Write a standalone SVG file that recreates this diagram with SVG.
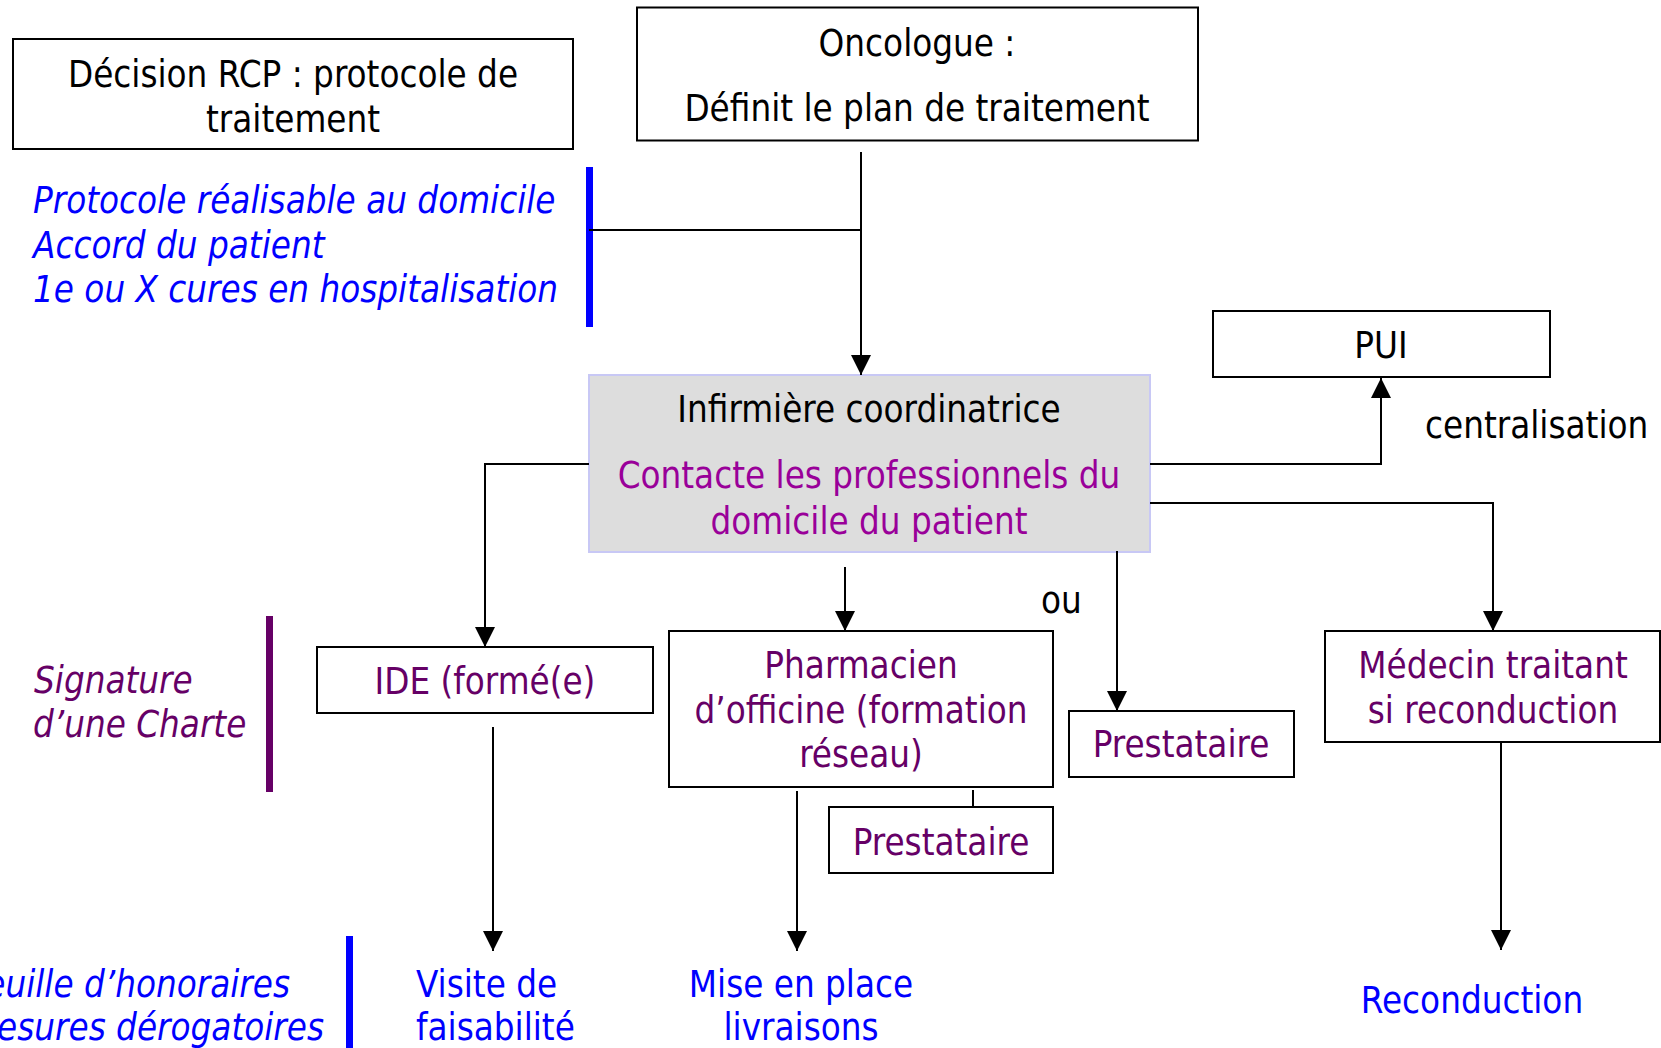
<svg xmlns="http://www.w3.org/2000/svg" width="1661" height="1048" viewBox="0 0 1661 1048">
<defs>
<style>
text{font-family:"DejaVu Sans Condensed","DejaVu Sans","Liberation Sans",sans-serif;font-stretch:condensed;font-size:36.4px}
.c{text-anchor:middle}
.e{text-anchor:end}
.k{fill:#000}
.b{fill:#0000FF}
.p{fill:#660066}
.m{fill:#990099}
.i{font-style:italic}
.box{fill:#fff;stroke:#000;stroke-width:2}
.conn{fill:none;stroke:#000;stroke-width:2}
</style>
<marker id="ah" viewBox="0 0 20 20" refX="20" refY="10" markerWidth="20" markerHeight="20" markerUnits="userSpaceOnUse" orient="auto">
<path d="M0,0 L20,10 L0,20 z" fill="#000"/>
</marker>
</defs>
<rect width="1661" height="1048" fill="#fff"/>

<g id="decision">
<rect class="box" x="13" y="39" width="560" height="110"/>
<text class="c k" x="293" y="87">Décision RCP : protocole de</text>
<text class="c k" x="293" y="131.5">traitement</text>
</g>

<g id="oncologue">
<rect class="box" x="637" y="7.5" width="561" height="133"/>
<text class="c k" x="917" y="55.5">Oncologue :</text>
<text class="c k" x="917" y="121">Définit le plan de traitement</text>
</g>

<g id="conditions">
<rect x="586" y="167" width="7" height="160" fill="#0000FF"/>
<text class="b i" x="33" y="213">Protocole réalisable au domicile</text>
<text class="b i" x="33" y="257.5">Accord du patient</text>
<text class="b i" x="33" y="301.5">1e ou X cures en hospitalisation</text>
</g>

<g id="infirmiere">
<rect x="589" y="375" width="561" height="177" fill="#DDDDDD" stroke="#C8C8F5" stroke-width="2"/>
<text class="c k" x="869" y="422">Infirmière coordinatrice</text>
<text class="c m" x="869" y="488">Contacte les professionnels du</text>
<text class="c m" x="869" y="534">domicile du patient</text>
</g>

<g id="pui">
<rect class="box" x="1213" y="311" width="337" height="66"/>
<text class="c k" x="1381" y="358">PUI</text>
</g>
<text class="k" x="1425" y="438">centralisation</text>

<g id="charte">
<rect x="266" y="616" width="7" height="176" fill="#660066"/>
<text class="p i" x="34" y="693">Signature</text>
<text class="p i" x="33" y="737">d’une Charte</text>
</g>

<g id="ide">
<rect class="box" x="317" y="647" width="336" height="66"/>
<text class="c p" x="485" y="694">IDE (formé(e)</text>
</g>

<g id="pharmacien">
<rect class="box" x="669" y="631" width="384" height="156"/>
<text class="c p" x="861" y="678">Pharmacien</text>
<text class="c p" x="861" y="723">d’officine (formation</text>
<text class="c p" x="861" y="767">réseau)</text>
</g>

<g id="prestataire2">
<rect class="box" x="829" y="807" width="224" height="66"/>
<text class="c p" x="941" y="855">Prestataire</text>
</g>

<text class="k" x="1041" y="613">ou</text>

<g id="prestataire1">
<rect class="box" x="1069" y="711" width="225" height="66"/>
<text class="c p" x="1181" y="757">Prestataire</text>
</g>

<g id="medecin">
<rect class="box" x="1325" y="631" width="335" height="111"/>
<text class="c p" x="1493" y="678">Médecin traitant</text>
<text class="c p" x="1493" y="723">si reconduction</text>
</g>

<g id="facturation">
<rect x="346" y="936" width="7" height="112" fill="#0000FF"/>
<text class="b i e" x="290" y="997">Feuille d’honoraires</text>
<text class="b i e" x="324" y="1040">Mesures dérogatoires</text>
</g>

<g id="visite">
<text class="b" x="416" y="997">Visite de</text>
<text class="b" x="416" y="1040">faisabilité</text>
</g>

<g id="mise">
<text class="c b" x="801" y="997">Mise en place</text>
<text class="c b" x="801" y="1040">livraisons</text>
</g>

<g id="reconduction">
<text class="c b" x="1472" y="1013">Reconduction</text>
</g>

<g id="connectors">
<path class="conn" d="M861,152 V375" marker-end="url(#ah)"/>
<path class="conn" d="M589,230 H861"/>
<path class="conn" d="M589,464 H485 V647" marker-end="url(#ah)"/>
<path class="conn" d="M845,567 V631" marker-end="url(#ah)"/>
<path class="conn" d="M1117,551 V711" marker-end="url(#ah)"/>
<path class="conn" d="M1150,464 H1381 V378" marker-end="url(#ah)"/>
<path class="conn" d="M1150,503 H1493 V631" marker-end="url(#ah)"/>
<path class="conn" d="M493,727 V951" marker-end="url(#ah)"/>
<path class="conn" d="M797,791 V951" marker-end="url(#ah)"/>
<path class="conn" d="M973,790 V807"/>
<path class="conn" d="M1501,742 V950" marker-end="url(#ah)"/>
</g>
</svg>
